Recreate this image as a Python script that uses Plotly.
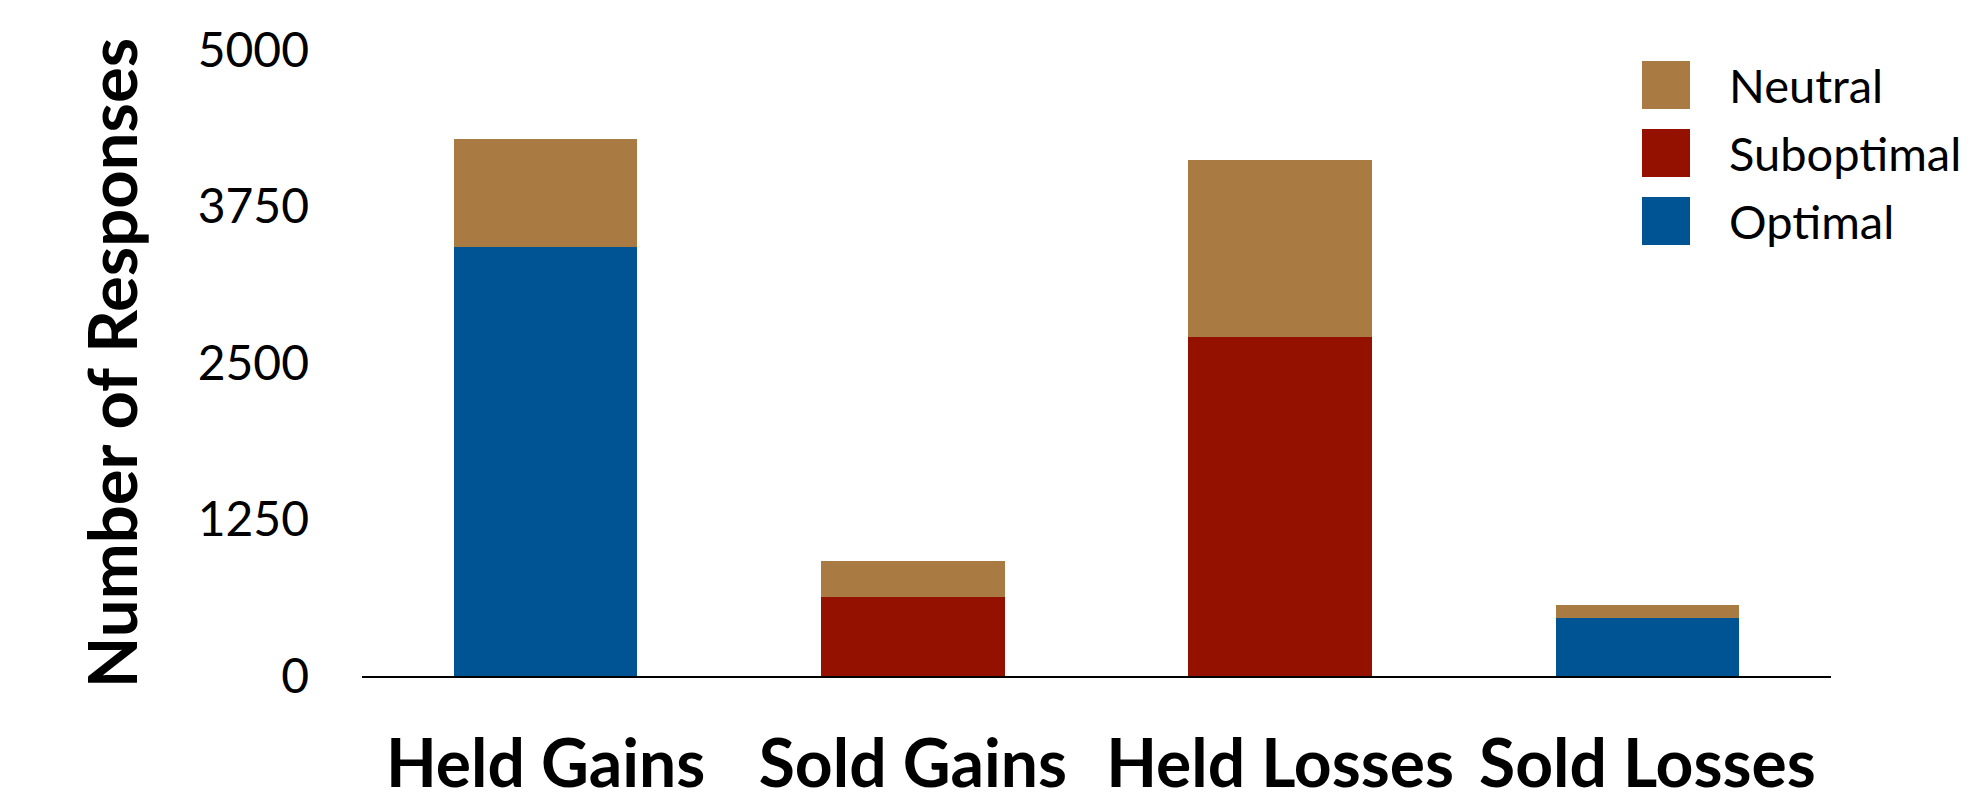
import plotly.graph_objects as go

# Response counts by decision category, stacked by outcome type
categories = ["Held Gains", "Sold Gains", "Held Losses", "Sold Losses"]
optimal = [3430, 0, 0, 463]
suboptimal = [0, 630, 2710, 0]
neutral = [860, 290, 1410, 105]

series_names = ["Optimal", "Suboptimal", "Neutral"]
series_values = [optimal, suboptimal, neutral]
series_colors = ["#005493", "#941100", "#A97A42"]

y_ticks = [0, 1250, 2500, 3750, 5000]

W, H = 1980, 803
M_L, M_R, M_T, M_B = 362, 149, 50, 127
PLOT_W = W - M_L - M_R
PLOT_H = H - M_T - M_B

fig = go.Figure()
for name, vals, color in zip(series_names, series_values, series_colors):
    fig.add_trace(go.Bar(
        x=categories, y=vals, name=name,
        marker=dict(color=color, line=dict(width=0)),
        showlegend=False,
    ))

# Legend drawn as large square swatches with labels (top entry = top of stack)
sw = 48          # swatch size, px
sw_left = 1642   # px from page left
row_tops = [61, 129, 197]
for (name, color), top in zip(list(zip(series_names, series_colors))[::-1], row_tops):
    x0 = (sw_left - M_L) / PLOT_W
    x1 = (sw_left + sw - M_L) / PLOT_W
    y1 = 1 - (top - M_T) / PLOT_H
    y0 = 1 - (top + sw - M_T) / PLOT_H
    fig.add_shape(type="rect", xref="paper", yref="paper",
                  x0=x0, x1=x1, y0=y0, y1=y1,
                  fillcolor=color, line=dict(width=0))
    fig.add_annotation(xref="paper", yref="paper",
                       x=(1727 - M_L) / PLOT_W, y=(y0 + y1) / 2,
                       text=name, showarrow=False,
                       xanchor="left", yanchor="middle",
                       font=dict(family="Lato", size=47, color="black"))

fig.update_layout(
    width=W, height=H,
    margin=dict(l=M_L, r=M_R, t=M_T, b=M_B),
    barmode="stack",
    bargap=0.5,
    plot_bgcolor="white",
    paper_bgcolor="white",
    font=dict(family="Lato", color="black"),
)
fig.update_xaxes(
    automargin=False,
    showline=True, linecolor="black", linewidth=2,
    showgrid=False, zeroline=False,
    ticks="", ticklabelstandoff=30,
    tickfont=dict(family="Lato", size=66, weight="bold", color="black"),
)
fig.update_yaxes(
    automargin=False,
    range=[0, 5000], tickvals=y_ticks, ticktext=[str(v) for v in y_ticks],
    showline=False, showgrid=False, zeroline=False,
    ticks="", ticklabelstandoff=52,
    tickfont=dict(family="Lato", size=48, color="black"),
    title=dict(text="Number of Responses", standoff=38,
               font=dict(family="Lato", size=67, weight="bold", color="black")),
)

fig.write_html("out.html")
